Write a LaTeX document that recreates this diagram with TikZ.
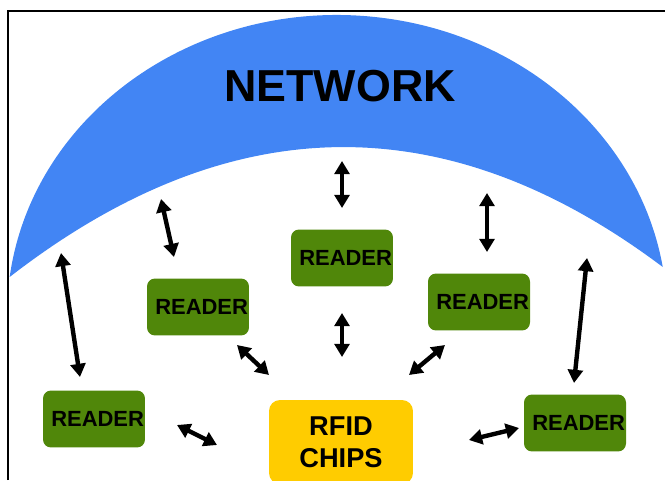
\documentclass[tikz,border=0pt]{standalone}
\usepackage{fontspec}
\setmainfont{Liberation Sans}
\usetikzlibrary{arrows.meta,positioning}
\definecolor{netblue}{RGB}{66,133,244}
\definecolor{readergreen}{RGB}{80,135,10}
\definecolor{chipyellow}{RGB}{255,204,0}

\begin{document}
\begin{tikzpicture}[x=0.02cm,y=0.02cm]
\tikzstyle{reader}=[fill=readergreen, rounded corners=0.16cm, text width=2cm, align=right, inner xsep=0.02cm, minimum height=1.14cm, font=\fontsize{12.5}{14}\selectfont\bfseries]
\tikzstyle{chips}=[fill=chipyellow, rounded corners=0.22cm, minimum width=2.88cm, minimum height=1.68cm, align=center, font=\fontsize{15.5}{18}\selectfont\bfseries]
\tikzstyle{conn}=[{Triangle[width=8.5pt,length=7.5pt]}-{Triangle[width=8.5pt,length=7.5pt]}, line width=2.5pt]
\useasboundingbox (0,0) rectangle (665,480);
% network band
\coordinate (tipL) at ([shift={(337,165)}]172.72:330 and 300);
\fill[netblue] (tipL) arc[start angle=172.72, end angle=9.21, x radius=330, y radius=300]
    .. controls (446,376) and (229,373) .. (tipL) -- cycle;
\node[font=\fontsize{25.5}{30}\selectfont\bfseries] (net) at (340,394) {NETWORK};
% readers and chips
\foreach \name/\x/\y in {1/342/222, 2/198/173, 3/479/178, 4/94/61, 5/575/57}
    \node[reader] (r\name) at (\x,\y) {READER};
\node[chips] (chips) at (341,38) {RFID\\CHIPS};
% arrow ends
\foreach \name/\x/\y in {a1/61/227, b1/80/103, a2/161/281, b2/174/223, a3/342/319, b3/342/272,
    a4/487/287, b4/487/228, a5/587/222, b5/574/97, a6/237/135, b6/269/105, a7/342/167, b7/342/123,
    a8/445/135, b8/409/105, a9/177/55, b9/217/35, a10/519/52, b10/469/40}
    \coordinate (\name) at (\x,\y);
\foreach \h in {1,...,10}
    \path[conn] (a\h) edge (b\h);
% frame
\draw[line width=1.4pt] (8,0) -- (8,469) -- (665,469);
\end{tikzpicture}
\end{document}
